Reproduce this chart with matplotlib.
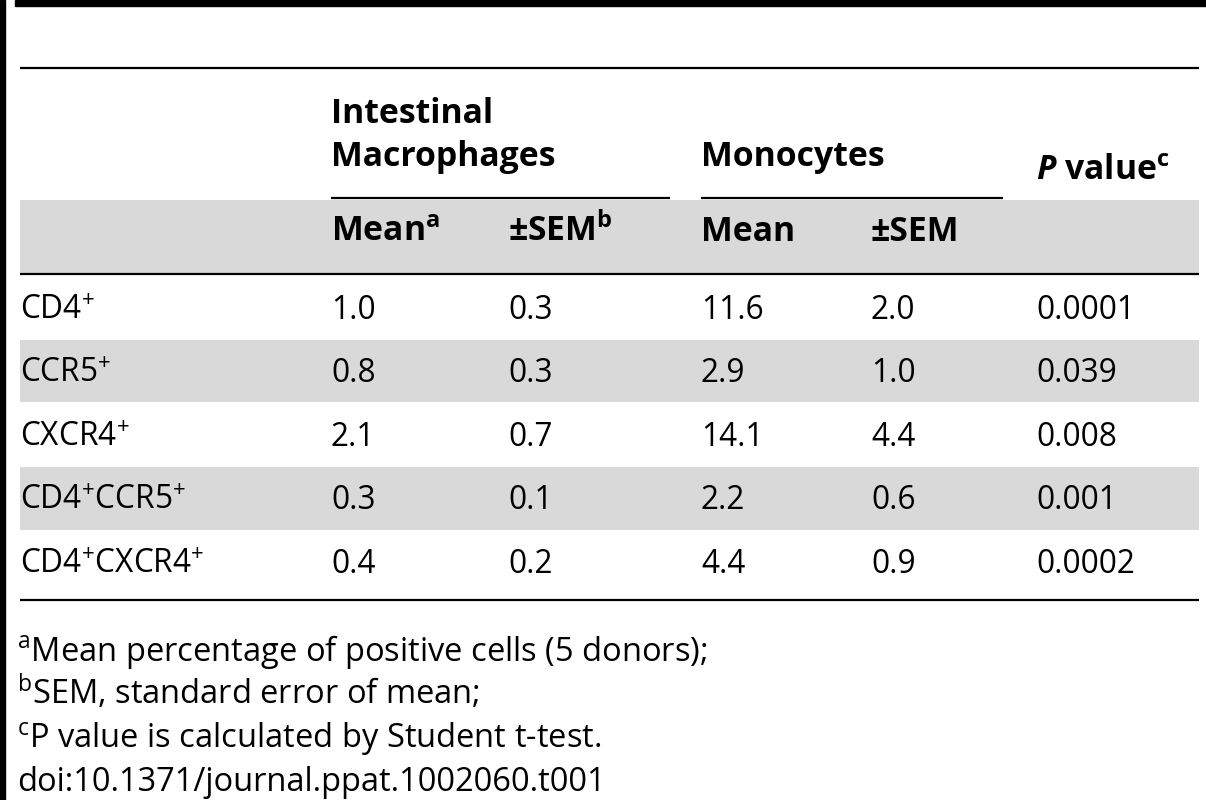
import matplotlib
matplotlib.use('Agg')
import matplotlib.pyplot as plt
from matplotlib.patches import Rectangle

plt.rcParams['font.family'] = ['Open Sans', 'DejaVu Sans']
plt.rcParams['mathtext.fontset'] = 'custom'
plt.rcParams['mathtext.rm'] = 'Open Sans'
plt.rcParams['mathtext.bf'] = 'Open Sans:bold'
plt.rcParams['mathtext.it'] = 'Open Sans:italic:bold'

# table content
row_labels = ['CD4$^{+}$', 'CCR5$^{+}$', 'CXCR4$^{+}$',
              'CD4$^{+}$CCR5$^{+}$', 'CD4$^{+}$CXCR4$^{+}$']
mac_mean = [1.0, 0.8, 2.1, 0.3, 0.4]
mac_sem = [0.3, 0.3, 0.7, 0.1, 0.2]
mono_mean = [11.6, 2.9, 14.1, 2.2, 4.4]
mono_sem = [2.0, 1.0, 4.4, 0.6, 0.9]
p_values = ['0.0001', '0.039', '0.008', '0.001', '0.0002']
group_labels = ['Intestinal', 'Macrophages', 'Monocytes']
sub_labels = [r'Mean$^{\mathbf{a}}$', r'±SEM$^{\mathbf{b}}$', 'Mean', '±SEM']
p_header = r'$\mathit{P}$ value$^{\mathbf{c}}$'
footnotes = [r'$^{\mathrm{a}}$Mean percentage of positive cells (5 donors);',
             r'$^{\mathrm{b}}$SEM, standard error of mean;',
             r'$^{\mathrm{c}}$P value is calculated by Student t-test.',
             'doi:10.1371/journal.ppat.1002060.t001']

W, H = 1206, 800
fig = plt.figure(figsize=(W / 100, H / 100), dpi=100)
ax = fig.add_axes([0, 0, 1, 1])
ax.set_xlim(0, W)
ax.set_ylim(H, 0)
ax.axis('off')

grey = '#d9d9d9'
fs = 22.8
fs_head = 24.3
fs_note = 23.5

# frame bars
ax.add_patch(Rectangle((0, 0), 5, 800, color='black'))
ax.add_patch(Rectangle((15, 0), W - 15, 6, color='black'))

# shaded bands: header row and alternating rows
ax.add_patch(Rectangle((20, 200), 1179, 74, color=grey, lw=0))
band_edges = [274, 340, 402, 467, 530, 600]
for i in range(len(row_labels)):
    if i % 2 == 1:
        ax.add_patch(Rectangle((20, band_edges[i]), 1179, band_edges[i + 1] - band_edges[i],
                               color=grey, lw=0))

# rules
ax.hlines([68, 274, 600], 20, 1199, color='black', lw=1.6)
ax.hlines(198, 331, 670, color='black', lw=1.6)
ax.hlines(198, 701, 1003, color='black', lw=1.6)

col_x = [20, 331, 508, 701, 871, 1036]

# header
ax.text(col_x[1], 123, group_labels[0], fontsize=fs_head, fontweight='bold', va='baseline')
ax.text(col_x[1], 166, group_labels[1], fontsize=fs_head, fontweight='bold', va='baseline')
ax.text(col_x[3], 166, group_labels[2], fontsize=fs_head, fontweight='bold', va='baseline')
ax.text(col_x[5], 180, p_header, fontsize=fs_head, fontweight='bold', va='baseline')
for x, lab in zip(col_x[1:5], sub_labels):
    ax.text(x, 241, lab, fontsize=fs_head, fontweight='bold', va='baseline')

# body rows
for i, lab in enumerate(row_labels):
    yb = 319 + 63.4 * i
    cells = [lab, f'{mac_mean[i]:.1f}', f'{mac_sem[i]:.1f}',
             f'{mono_mean[i]:.1f}', f'{mono_sem[i]:.1f}', p_values[i]]
    for x, c in zip(col_x, cells):
        ax.text(x, yb, c, fontsize=fs, va='baseline')

# footnotes
for i, f in enumerate(footnotes):
    ax.text(17, 661 + 43.3 * i, f, fontsize=fs_note, va='baseline')

fig.savefig('out.png', dpi=100)
